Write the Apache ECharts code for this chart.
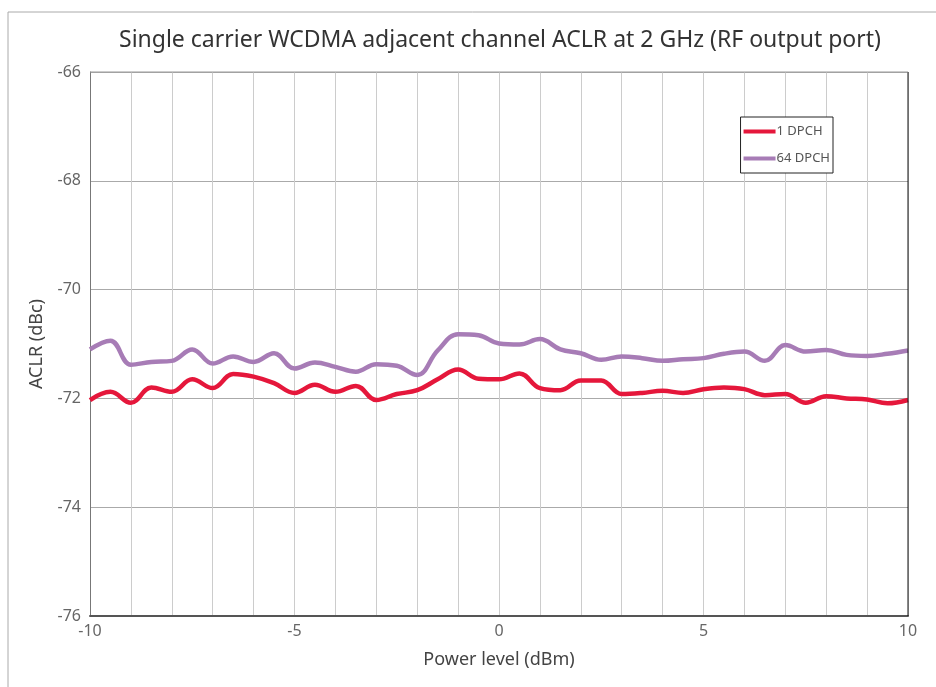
<!DOCTYPE html>
<html>
<head>
<meta charset="utf-8">
<script src="https://cdn.jsdelivr.net/npm/echarts@6/dist/echarts.min.js"></script>
<style>
  html, body { margin: 0; padding: 0; background: #fff; }
  #chart { width: 936px; height: 687px; }
</style>
</head>
<body>
<div id="chart"></div>
<script>
// power level (dBm)
const powerLevels = [-10, -9.5, -9, -8.5, -8, -7.5, -7, -6.5, -6, -5.5, -5, -4.5, -4, -3.5, -3, -2.5, -2, -1.5, -1, -0.5,
  0, 0.5, 1, 1.5, 2, 2.5, 3, 3.5, 4, 4.5, 5, 5.5, 6, 6.5, 7, 7.5, 8, 8.5, 9, 9.5, 10]
// ACLR (dBc)
const dpch1 = [-72.03, -71.88, -72.08, -71.80, -71.88, -71.65, -71.81, -71.55, -71.60, -71.72, -71.90, -71.75, -71.88, -71.77, -72.03, -71.92, -71.85, -71.65, -71.47, -71.64,
  -71.65, -71.54, -71.81, -71.85, -71.67, -71.67, -71.92, -71.90, -71.86, -71.90, -71.83, -71.80, -71.83, -71.94, -71.92, -72.08, -71.96, -72.00, -72.02, -72.09, -72.03]
const dpch64 = [-71.10, -70.94, -71.38, -71.33, -71.31, -71.10, -71.36, -71.23, -71.33, -71.17, -71.45, -71.34, -71.42, -71.51, -71.37, -71.40, -71.57, -71.12, -70.82, -70.84,
  -70.99, -71.01, -70.91, -71.10, -71.17, -71.29, -71.23, -71.26, -71.31, -71.28, -71.26, -71.18, -71.14, -71.31, -71.02, -71.14, -71.11, -71.20, -71.22, -71.18, -71.12]
const xLabels = [-10, -5, 0, 5, 10]

const pair = (ys) => powerLevels.map((x, i) => [x, ys[i]])

const chart = echarts.init(document.getElementById('chart'))
const font = 'Noto Sans'
const option = {
  animation: false,
  textStyle: { fontFamily: font },
  title: {
    text: 'Single carrier WCDMA adjacent channel ACLR at 2 GHz (RF output port)',
    left: 114,
    top: 24,
    textStyle: { color: '#333', fontWeight: 'normal', fontSize: 23, fontFamily: font }
  },
  graphic: [
    {
      type: 'rect',
      shape: { x: 8, y: 12, width: 940, height: 700 },
      style: { fill: 'none', stroke: '#aaa', lineWidth: 1 },
      silent: true
    },
    {
      // right frame edge is black in the original
      type: 'line',
      shape: { x1: 908, y1: 72, x2: 908, y2: 616 },
      style: { stroke: '#111', lineWidth: 1 },
      silent: true,
      z: 5
    },
    {
      type: 'line',
      shape: { x1: 90, y1: 72, x2: 908, y2: 72 },
      style: { stroke: '#999', lineWidth: 1 },
      silent: true,
      z: 5
    }
  ],
  legend: {
    orient: 'vertical',
    right: 103,
    top: 117,
    padding: [8, 3, 8, 3],
    itemGap: 14,
    itemWidth: 32,
    itemHeight: 4,
    icon: 'rect',
    borderColor: '#222',
    borderWidth: 1,
    backgroundColor: '#fff',
    textStyle: { color: '#555', fontSize: 13, padding: [0, 0, 0, -4] },
    data: ['1 DPCH', '64 DPCH']
  },
  grid: { left: 90, right: 28, top: 72, bottom: 71 },
  xAxis: {
    type: 'value',
    min: -10,
    max: 10,
    interval: 1,
    name: 'Power level (dBm)',
    nameLocation: 'middle',
    nameGap: 35,
    nameTextStyle: { color: '#444', fontSize: 18 },
    axisLine: { lineStyle: { color: '#555', width: 2 } },
    axisTick: { show: false },
    axisLabel: {
      color: '#666',
      fontSize: 16,
      margin: 7,
      formatter: (v) => (xLabels.indexOf(v) > -1 ? String(v) : '')
    },
    splitLine: { lineStyle: { color: '#ccc', width: 1 } }
  },
  yAxis: {
    type: 'value',
    min: -76,
    max: -66,
    interval: 2,
    name: 'ACLR (dBc)',
    nameLocation: 'middle',
    nameGap: 44,
    nameTextStyle: { color: '#444', fontSize: 18 },
    axisLine: { show: true, onZero: false, lineStyle: { color: '#777', width: 1 } },
    axisTick: { show: false },
    axisLabel: { color: '#666', fontSize: 16, margin: 9 },
    splitLine: { lineStyle: { color: '#aaa', width: 1 } }
  },
  series: [
    {
      name: '1 DPCH',
      type: 'line',
      smooth: 0.4,
      symbol: 'none',
      color: '#e5173b',
      lineStyle: { width: 4.5, color: '#e5173b' },
      data: pair(dpch1),
      z: 3
    },
    {
      name: '64 DPCH',
      type: 'line',
      smooth: 0.4,
      symbol: 'none',
      color: '#a77cb6',
      lineStyle: { width: 4.5, color: '#a77cb6' },
      data: pair(dpch64),
      z: 2
    }
  ]
}
chart.setOption(option)
window.addEventListener('resize', () => chart.resize())
</script>
</body>
</html>
